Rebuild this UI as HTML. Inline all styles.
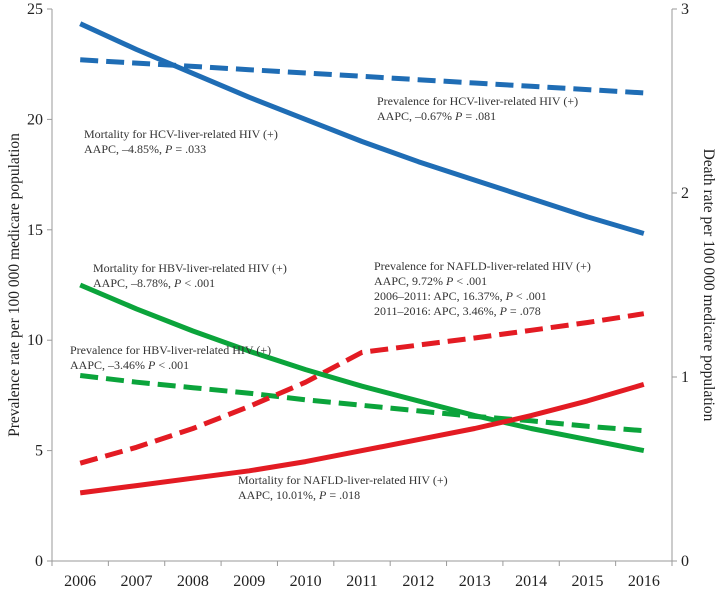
<!DOCTYPE html>
<html><head><meta charset="utf-8">
<style>
html,body{margin:0;padding:0;background:#fff;}
svg{display:block;font-family:"Liberation Serif",serif;}
.ann{font-size:12px;fill:#333;}
.tick{font-size:16px;fill:#222;}
.title{font-size:15.5px;fill:#222;}
</style></head>
<body>
<svg id="chart" width="717" height="590" viewBox="0 0 717 590">
  <g id="axes"></g>
  <g id="series"></g>
  <text class="title" transform="translate(19,285) rotate(-90)" text-anchor="middle">Prevalence rate per 100 000 medicare population</text>
  <text class="title" transform="translate(704,285) rotate(90)" text-anchor="middle">Death rate per 100 000 medicare population</text>
  <g>
    <text class="ann" x="377" y="105">Prevalence for HCV-liver-related HIV (+)</text>
    <text class="ann" x="377" y="120">AAPC, –0.67% <tspan font-style="italic">P</tspan> = .081</text>
  </g>
  <g>
    <text class="ann" x="84" y="138">Mortality for HCV-liver-related HIV (+)</text>
    <text class="ann" x="84" y="153">AAPC, –4.85%, <tspan font-style="italic">P</tspan> = .033</text>
  </g>
  <g>
    <text class="ann" x="93" y="272">Mortality for HBV-liver-related HIV (+)</text>
    <text class="ann" x="93" y="287">AAPC, –8.78%, <tspan font-style="italic">P</tspan> &lt; .001</text>
  </g>
  <g>
    <text class="ann" x="70" y="354">Prevalence for HBV-liver-related HIV (+)</text>
    <text class="ann" x="70" y="369">AAPC, –3.46% <tspan font-style="italic">P</tspan> &lt; .001</text>
  </g>
  <g>
    <text class="ann" x="374" y="270">Prevalence for NAFLD-liver-related HIV (+)</text>
    <text class="ann" x="374" y="285">AAPC, 9.72% <tspan font-style="italic">P</tspan> &lt; .001</text>
    <text class="ann" x="374" y="300">2006–2011: APC, 16.37%, <tspan font-style="italic">P</tspan> &lt; .001</text>
    <text class="ann" x="374" y="315">2011–2016: APC, 3.46%, <tspan font-style="italic">P</tspan> = .078</text>
  </g>
  <g>
    <text class="ann" x="238" y="484">Mortality for NAFLD-liver-related HIV (+)</text>
    <text class="ann" x="238" y="499">AAPC, 10.01%, <tspan font-style="italic">P</tspan> = .018</text>
  </g>
</svg>
<script>
const years = [2006,2007,2008,2009,2010,2011,2012,2013,2014,2015,2016];
const leftTicks = [0,5,10,15,20,25];
const rightTicks = [0,1,2,3];
const hcvPrevalence = [22.7,22.55,22.4,22.25,22.1,21.95,21.8,21.65,21.5,21.35,21.2];
const hcvMortality = [2.92,2.78,2.65,2.52,2.40,2.28,2.17,2.07,1.97,1.87,1.78];
const hbvPrevalence = [8.4,8.1,7.85,7.6,7.3,7.05,6.8,6.55,6.35,6.1,5.9];
const hbvMortality = [1.50,1.37,1.25,1.14,1.04,0.95,0.87,0.79,0.72,0.66,0.60];
const nafldPrevalence = [4.43,5.15,6.0,7.0,8.1,9.45,9.78,10.1,10.45,10.8,11.2];
const nafldMortality = [0.37,0.41,0.45,0.49,0.54,0.60,0.66,0.72,0.79,0.87,0.96];

const NS = 'http://www.w3.org/2000/svg';
const L = 52, R = 672, T = 9, B = 561;
const bw = (R - L) / years.length;
function xPos(i){ return L + bw * (i + 0.5); }
function yLeft(v){ return B - (v / 25) * (B - T); }
function yRight(v){ return B - (v / 3) * (B - T); }
function mk(tag, attrs, parent){ const e = document.createElementNS(NS, tag); for (const k in attrs) e.setAttribute(k, attrs[k]); parent.appendChild(e); return e; }

const axes = document.getElementById('axes');
const series = document.getElementById('series');
const grey = '#9a9a9a';

let e;
e = mk('line', {x1:L, y1:T, x2:L, y2:B, stroke:grey, 'stroke-width':1}, axes);


e = mk('line', {x1:R, y1:T, x2:R, y2:B, stroke:grey, 'stroke-width':1}, axes);


e = mk('line', {x1:L, y1:B, x2:R, y2:B, stroke:grey, 'stroke-width':1}, axes);



leftTicks.forEach(v => {
  const y = yLeft(v);
  mk('line', {x1:L-5, y1:y, x2:L, y2:y, stroke:grey}, axes);
  const t = mk('text', {x:L-9, y:y+5, 'text-anchor':'end', class:'tick'}, axes);
  t.textContent = v;
  
  
});
rightTicks.forEach(v => {
  const y = yRight(v);
  mk('line', {x1:R, y1:y, x2:R+5, y2:y, stroke:grey}, axes);
  const t = mk('text', {x:R+9, y:y+5, 'text-anchor':'start', class:'tick'}, axes);
  t.textContent = v;
  
  
});
for (let i = 0; i <= years.length; i++) {
  const x = L + bw * i;
  mk('line', {x1:x, y1:B, x2:x, y2:B+5, stroke:grey}, axes);
}
years.forEach((yr, i) => {
  const t = mk('text', {x:xPos(i), y:B+25, 'text-anchor':'middle', class:'tick'}, axes);
  t.textContent = yr;
  
  
});

function drawLine(vals, yf, color, dashed, name){
  const d = vals.map((v,i) => (i ? 'L' : 'M') + xPos(i).toFixed(1) + ',' + yf(v).toFixed(1)).join(' ');
  const p = mk('path', {d:d, fill:'none', stroke:color, 'stroke-width':5, 'stroke-linejoin':'round'}, series);
  if (dashed) p.setAttribute('stroke-dasharray', '18 8');
  
  
}
const blue = '#1f6db5', green = '#0ba43b', red = '#e31b23';
drawLine(hcvPrevalence, yLeft, blue, true, 'hcv-prevalence-line');
drawLine(hbvPrevalence, yLeft, green, true, 'hbv-prevalence-line');
drawLine(nafldPrevalence, yLeft, red, true, 'nafld-prevalence-line');
drawLine(hcvMortality, yRight, blue, false, 'hcv-mortality-line');
drawLine(hbvMortality, yRight, green, false, 'hbv-mortality-line');
drawLine(nafldMortality, yRight, red, false, 'nafld-mortality-line');
</script>
</body></html>
